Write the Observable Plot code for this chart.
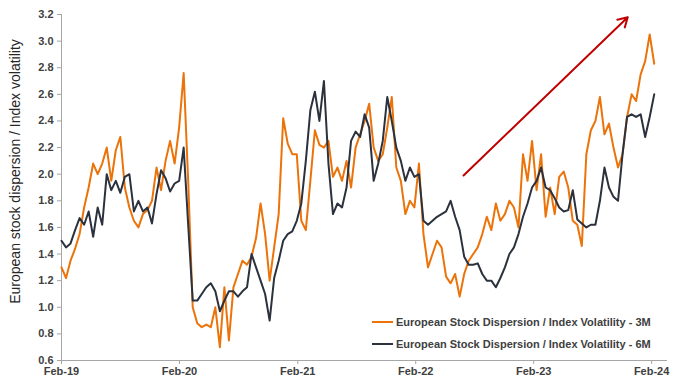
<!DOCTYPE html>
<html>
<head>
<meta charset="utf-8">
<script src="https://cdn.jsdelivr.net/npm/d3@7"></script>
<script src="https://cdn.jsdelivr.net/npm/@observablehq/plot@0.6"></script>
<style>
  html, body { margin: 0; padding: 0; background: #ffffff; }
  #wrap { position: relative; width: 680px; height: 390px; font-family: "Liberation Sans", Arial, sans-serif; }
  .leg { position: absolute; left: 372px; font: bold 11px "Liberation Sans", Arial, sans-serif; color: #404040; white-space: nowrap; display: flex; align-items: center; }
  .leg .sw { display: inline-block; width: 21px; height: 2px; margin-right: 3px; }
</style>
</head>
<body>
<div id="wrap"></div>
<script>
// ---- data ----
const startDate = "2019-02-01";   // first observation
const stepDays = 14;              // sampling interval of the readings below
const seriesNames = ["European Stock Dispersion / Index Volatility - 3M", "European Stock Dispersion / Index Volatility - 6M"];
const seriesColors = ["#EB7309", "#2B313D"];
const m3 = [1.30,1.22,1.35,1.44,1.55,1.75,1.90,2.08,2.00,2.08,2.20,1.95,2.18,2.28,1.90,1.75,1.65,1.60,1.70,1.73,
  1.80,2.05,1.88,2.10,2.25,2.08,2.35,2.76,1.95,1.00,0.88,0.85,0.87,0.85,1.00,0.70,1.15,0.75,1.15,1.25,
  1.35,1.32,1.38,1.52,1.78,1.55,1.20,1.45,1.70,2.42,2.23,2.15,2.15,1.65,1.58,1.95,2.33,2.22,2.20,2.25,
  1.98,2.05,1.95,2.10,1.90,2.20,2.30,2.40,2.53,2.20,2.10,2.15,2.35,2.58,2.05,1.95,1.70,1.80,1.75,2.08,
  1.55,1.30,1.40,1.50,1.45,1.23,1.18,1.25,1.08,1.25,1.35,1.40,1.45,1.55,1.68,1.58,1.78,1.65,1.70,1.80,
  1.75,1.60,2.15,1.95,2.25,1.88,2.15,1.68,1.90,1.70,1.98,2.02,1.90,1.65,1.62,1.46,2.15,2.33,2.40,2.58,
  2.30,2.38,2.20,2.05,2.15,2.43,2.60,2.55,2.75,2.85,3.05,2.83];
const m6 = [1.50,1.45,1.48,1.58,1.67,1.62,1.72,1.53,1.75,1.62,2.00,1.88,1.95,1.86,1.98,2.00,1.72,1.80,1.72,1.75,
  1.63,1.85,2.03,1.97,1.87,1.93,1.95,2.20,1.62,1.05,1.05,1.10,1.15,1.18,1.12,0.97,1.05,1.12,1.12,1.08,
  1.12,1.15,1.40,1.30,1.20,1.10,0.90,1.22,1.35,1.50,1.55,1.57,1.65,1.78,2.10,2.48,2.62,2.40,2.70,2.08,
  1.70,1.78,1.75,1.90,2.25,2.32,2.28,2.45,2.35,1.95,2.08,2.25,2.58,2.40,2.20,2.10,1.95,2.05,1.98,2.00,
  1.65,1.62,1.65,1.68,1.70,1.72,1.80,1.68,1.58,1.38,1.32,1.32,1.33,1.25,1.20,1.20,1.15,1.22,1.30,1.40,
  1.45,1.55,1.68,1.78,1.90,1.95,2.05,1.90,1.88,1.82,1.75,1.72,1.73,1.88,1.66,1.63,1.60,1.62,1.62,1.80,
  2.05,1.90,1.83,1.80,2.15,2.43,2.45,2.43,2.45,2.28,2.43,2.60];
const xTicks = ["2019-02-01","2020-02-01","2021-02-01","2022-02-01","2023-02-01","2024-02-01"];
const yTicks = [0.6,0.8,1.0,1.2,1.4,1.6,1.8,2.0,2.2,2.4,2.6,2.8,3.0,3.2];
const yLabel = "European stock dispersion / Index volatility";
const arrowData = [{x1: "2022-06-29", y1: 1.99, x2: "2023-11-19", y2: 3.18}];
const xDomain = ["2019-02-01", "2024-03-18"];
const yDomain = [0.6, 3.2];

// ---- build ----
const parse = s => new Date(s + "T00:00:00Z");
const start = parse(startDate);
const toRows = vals => vals.map((v, i) => ({date: d3.utcDay.offset(start, i * stepDays), value: v}));
const rows3 = toRows(m3);
const rows6 = toRows(m6);
const arrows = arrowData.map(d => ({...d, x1: parse(d.x1), x2: parse(d.x2)}));

const chart = Plot.plot({
  width: 680,
  height: 390,
  marginLeft: 61,
  marginRight: 14,
  marginTop: 14,
  marginBottom: 30,
  style: {fontFamily: '"Liberation Sans", Arial, sans-serif', fontSize: "11px", fontWeight: "bold", color: "#404040", background: "#ffffff"},
  x: {type: "utc", domain: xDomain.map(parse)},
  y: {domain: yDomain},
  marks: [
    Plot.axisX({ticks: xTicks.map(parse), tickFormat: d3.utcFormat("%b-%y"), tickSize: 4, tickPadding: 3, label: null, stroke: "#A6A6A6"}),
    Plot.axisY({ticks: yTicks, tickFormat: d => d.toFixed(1), tickSize: 4, tickPadding: 4, label: null, stroke: "#A6A6A6"}),
    Plot.frame({anchor: "left", stroke: "#A6A6A6"}),
    Plot.frame({anchor: "bottom", stroke: "#A6A6A6"}),
    Plot.text([yLabel], {frameAnchor: "left", textAnchor: "middle", rotate: -90, dx: -46, dy: -16, fontSize: 14, fontWeight: "normal", fill: "#262626"}),
    Plot.line(rows3, {x: "date", y: "value", stroke: seriesColors[0], strokeWidth: 2}),
    Plot.line(rows6, {x: "date", y: "value", stroke: seriesColors[1], strokeWidth: 2}),
    Plot.arrow(arrows, {x1: "x1", y1: "y1", x2: "x2", y2: "y2", stroke: "#C00000", strokeWidth: 2, headLength: 8})
  ]
});

const wrap = document.getElementById("wrap");
wrap.appendChild(chart);
const legTops = [316, 338];
seriesNames.forEach((name, i) => {
  const row = document.createElement("div");
  row.className = "leg";
  row.style.top = legTops[i] + "px";
  const sw = document.createElement("span");
  sw.className = "sw";
  sw.style.background = seriesColors[i];
  const t = document.createElement("span");
  t.textContent = name;
  row.appendChild(sw);
  row.appendChild(t);
  wrap.appendChild(row);
});
</script>
</body>
</html>
